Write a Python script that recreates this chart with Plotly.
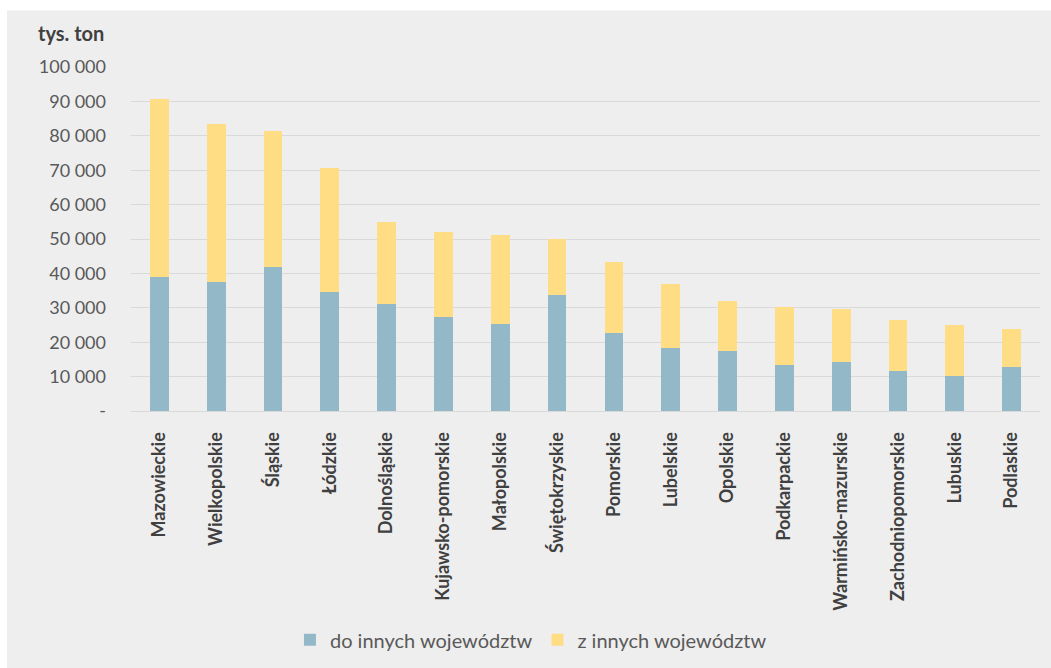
import plotly.graph_objects as go

# Województwa (sorted by total)
regions = [
    'Mazowieckie', 'Wielkopolskie', 'Śląskie', 'Łódzkie', 'Dolnośląskie',
    'Kujawsko-pomorskie', 'Małopolskie', 'Świętokrzyskie', 'Pomorskie',
    'Lubelskie', 'Opolskie', 'Podkarpackie', 'Warmińsko-mazurskie',
    'Zachodniopomorskie', 'Lubuskie', 'Podlaskie',
]

# tys. ton
do_innych = [38900, 37400, 41800, 34500, 31200, 27400, 25300, 33600,
             22600, 18400, 17500, 13400, 14300, 11700, 10200, 12800]
totals = [90700, 83300, 81500, 70600, 54800, 51900, 51300, 49900,
          43300, 36800, 32000, 30300, 29700, 26400, 25000, 23700]
z_innych = [t - d for t, d in zip(totals, do_innych)]

y_ticks = [0, 10000, 20000, 30000, 40000, 50000, 60000, 70000, 80000, 90000, 100000]
y_tick_text = ['-'] + [f'{v:,}'.replace(',', ' ') for v in y_ticks[1:]]

COLORS = {
    'do': '#93b8c8',
    'z': '#ffdd84',
    'grid': '#d9d9d9',
    'panel': '#eeeeee',
    'text': '#595959',
    'dark': '#404040',
}
FONT = 'Lato, "Open Sans", sans-serif'

fig = go.Figure()

fig.add_trace(go.Bar(
    x=regions, y=do_innych, name='do innych województw',
    marker=dict(color=COLORS['do'], line=dict(width=0)),
))
fig.add_trace(go.Bar(
    x=regions, y=z_innych, name='z innych województw',
    marker=dict(color=COLORS['z'], line=dict(width=0)),
))

# grey chart panel behind everything
fig.add_shape(
    type='rect', xref='paper', yref='paper',
    x0=-0.1364, x1=1.05, y0=-0.8, y1=1.164,
    fillcolor=COLORS['panel'], line=dict(width=0), layer='below',
)

fig.add_annotation(
    text='<b>tys. ton</b>', xref='paper', yref='paper',
    x=-0.027, y=1.10, xanchor='right', yanchor='middle', showarrow=False,
    font=dict(size=20, color=COLORS['dark'], family=FONT),
)

fig.update_layout(
    barmode='stack',
    bargap=0.67,
    width=1051,
    height=668,
    margin=dict(l=131, r=11, t=67, b=256),
    paper_bgcolor='white',
    plot_bgcolor='rgba(0,0,0,0)',
    font=dict(family=FONT, color=COLORS['text']),
    xaxis=dict(
        tickangle=-90,
        tickmode='array',
        tickvals=regions,
        ticktext=[f'<b>{r}</b>' for r in regions],
        tickfont=dict(size=18, color=COLORS['dark'], family=FONT),
        showgrid=False,
        showline=True,
        linecolor=COLORS['grid'],
        linewidth=1,
        ticks='',
        ticklabelstandoff=13,
    ),
    yaxis=dict(
        range=[0, 100000],
        tickvals=y_ticks,
        ticktext=y_tick_text,
        tickfont=dict(size=18, color=COLORS['text'], family=FONT),
        showgrid=True,
        gridcolor=COLORS['grid'],
        gridwidth=1,
        zeroline=False,
        ticks='',
        ticklabelstandoff=24,
    ),
    legend=dict(
        orientation='h',
        x=0.44, xanchor='center',
        y=-0.66, yanchor='middle',
        font=dict(size=20, color=COLORS['text'], family=FONT),
        itemwidth=30,
        traceorder='normal',
        bgcolor='rgba(0,0,0,0)',
    ),
    showlegend=True,
)

# drop the default page margin so the figure sits at the window origin
fig.write_html(
    'out.html',
    config={'displayModeBar': False},
    post_script="document.body.style.margin='0';",
)
